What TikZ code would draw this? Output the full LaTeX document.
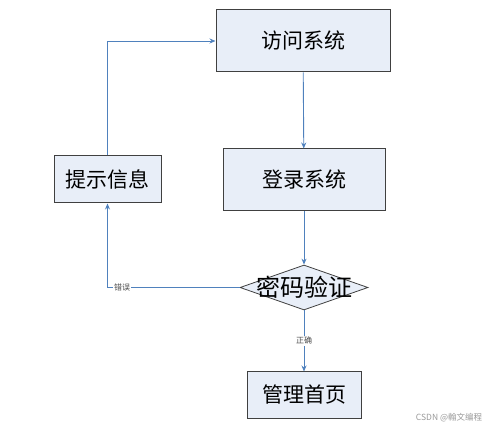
\documentclass[tikz,border=0pt]{standalone}
\usepackage{fontspec}
\newfontfamily\cjk{Noto Sans CJK SC}
\usepackage{tikz}
\usetikzlibrary{shapes.geometric,arrows.meta}

\definecolor{boxfill}{HTML}{E8EEF8}
\definecolor{boxline}{HTML}{404040}
\definecolor{linkblue}{HTML}{4F81BD}

\tikzset{
  procbox/.style={draw=boxline, line width=1pt, fill=boxfill, inner sep=0pt,
    font=\cjk\fontsize{21}{23}\selectfont},
  checkbox/.style={diamond, draw=boxline, line width=0.8pt, fill=boxfill, inner sep=0pt,
    minimum width=128pt, minimum height=45pt},
  link/.style={draw=linkblue, line width=0.9pt, -{Stealth[length=6pt,width=5pt]}},
  linktext/.style={font=\cjk\fontsize{8}{9}\selectfont, text=black!70, fill=white, inner sep=1pt}
}

\begin{document}
\begin{tikzpicture}[x=1pt,y=1pt]
    \useasboundingbox (0,0) rectangle (495,431);
    \node[procbox, minimum width=174pt, minimum height=62pt] (fangwen) at (303,390) {访问系统};
    \node[procbox, minimum width=162pt, minimum height=62pt] (denglu) at (304,251) {登录系统};
    \node[procbox, minimum width=107pt, minimum height=47pt] (tishi) at (107.5,251.5) {提示信息};
    \node[checkbox, label={[font=\cjk\fontsize{24}{26}\selectfont]center:密码验证}] (mima) at (304,143.5) {};
    \node[procbox, minimum width=114pt, minimum height=46pt] (guanli) at (304,36) {管理首页};

    \draw[link] (fangwen) -- (denglu);
    \draw[link] (denglu) -- (mima);
    \draw[link] (mima.west) -| node[linktext, pos=0.445] {错误} (tishi.south);
    \draw[link] (tishi.north) |- (fangwen.west);
    \draw[link] (mima.south) -- node[linktext] {正确} (guanli.north);

    \node[font=\cjk\fontsize{8.5}{9}\selectfont, text=black!40] (mark) at (449,13) {CSDN @翰文编程};
\end{tikzpicture}
\end{document}
